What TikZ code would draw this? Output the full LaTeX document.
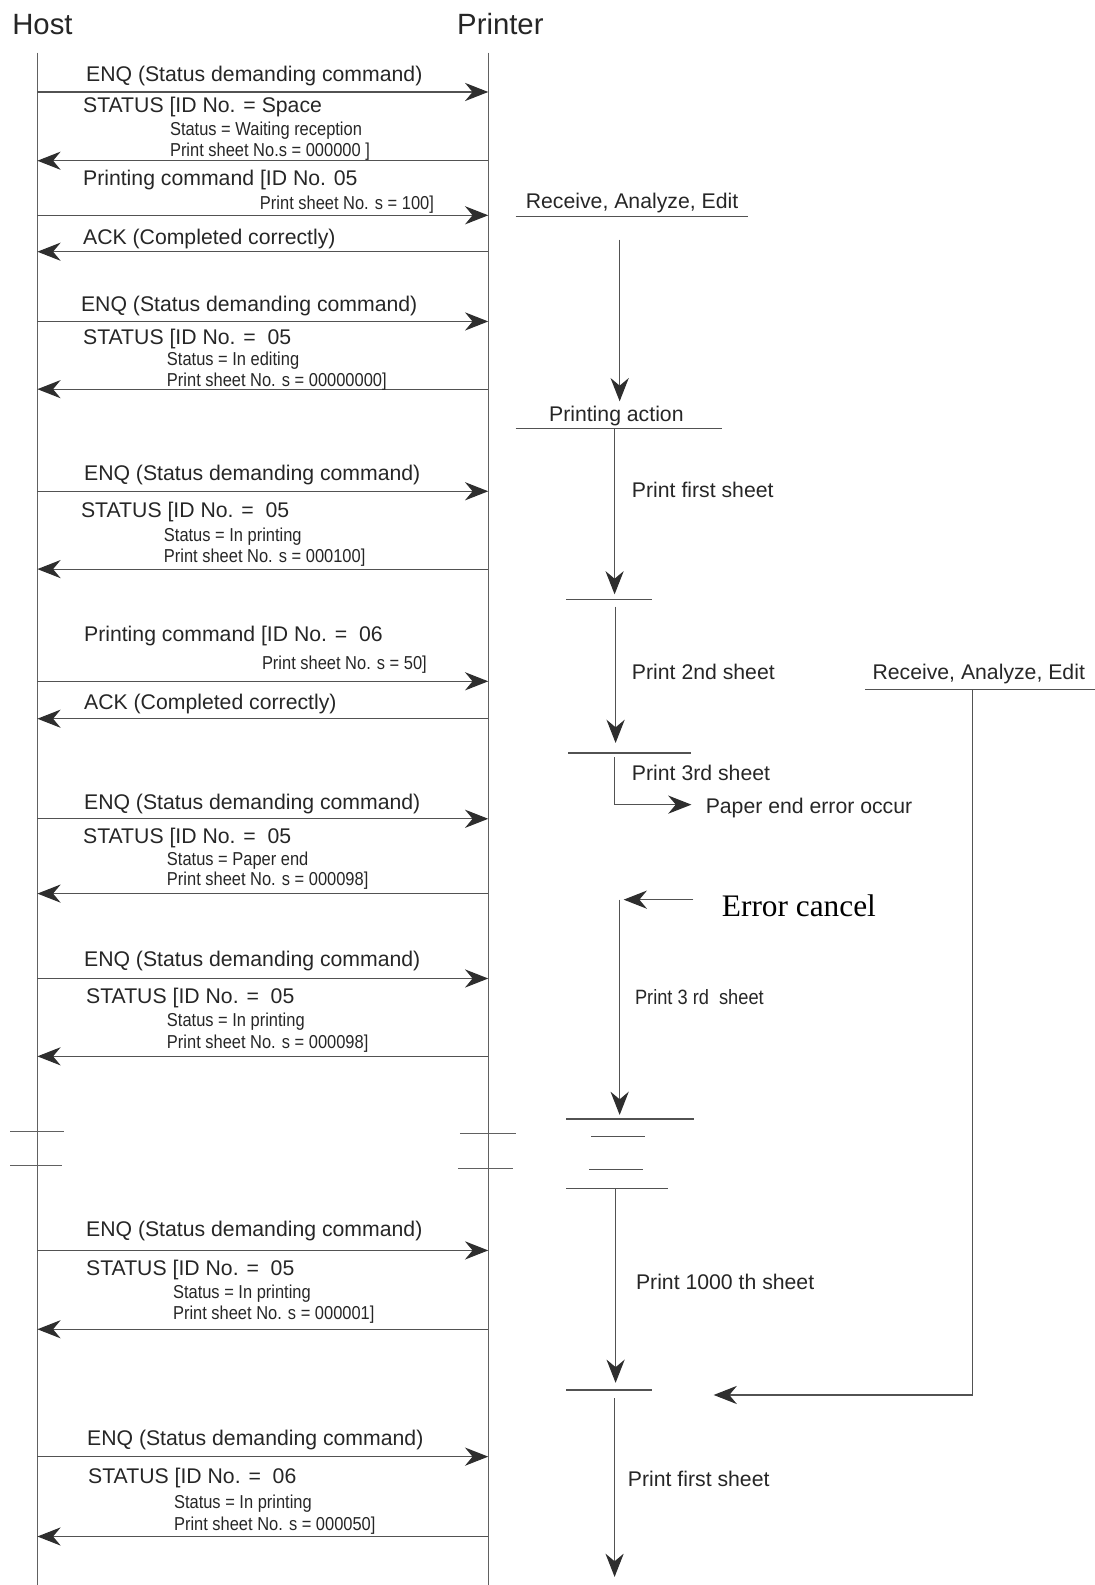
\documentclass[tikz,border=0pt]{standalone}
\usepackage{fontspec}
\setmainfont{Liberation Sans}
\newfontfamily\timesf{Liberation Serif}
\newfontfamily\narrowf[FakeStretch=0.88]{Liberation Sans}
\usetikzlibrary{arrows.meta}
\begin{document}
\begin{tikzpicture}[x=1pt,y=-1pt,
  ln/.style={draw=black!68,line width=1.2pt},
  life/.style={draw=black!62,line width=0.9pt},
  tip/.style={-{Stealth[length=23pt,width=18pt,inset=7.5pt,color=black!82]}},
  big/.style={anchor=base west,inner sep=0pt,text=black!85,font=\fontsize{21}{21}\selectfont},
  sml/.style={anchor=base west,inner sep=0pt,text=black!85,font=\narrowf\fontsize{18.5}{18.5}\selectfont},
  mid/.style={anchor=base west,inner sep=0pt,text=black!85,font=\narrowf\fontsize{20.5}{20.5}\selectfont},
  head/.style={inner sep=0pt,text=black!85,font=\fontsize{29}{29}\selectfont},
]
\useasboundingbox (0,0) rectangle (1083,1568);

% titles
\node[head] (host) at (42,24) {Host};
\node[head] (printer) at (495,24) {Printer};

% lifelines
\coordinate (htop) at (37,52);  \coordinate (hbot) at (37,1568);
\coordinate (ptop) at (483,52); \coordinate (pbot) at (483,1568);
\draw[life] (htop) -- (hbot);
\draw[life] (ptop) -- (pbot);

% break marks
\coordinate (hb1a) at (10,1119); \coordinate (hb1b) at (63,1119);
\coordinate (hb2a) at (10,1153); \coordinate (hb2b) at (61,1153);
\coordinate (pb1a) at (455,1121); \coordinate (pb1b) at (510,1121);
\coordinate (pb2a) at (453,1156); \coordinate (pb2b) at (507,1156);
\draw[life] (hb1a) -- (hb1b);
\draw[life] (hb2a) -- (hb2b);
\draw[life] (pb1a) -- (pb1b);
\draw[life] (pb2a) -- (pb2b);

% messages host -> printer
\foreach \i/\y in {1/91,3/213,5/318,7/486,9/674,11/810,13/968,15/1237,17/1441} {
  \coordinate (h\i) at (37,\y); \coordinate (p\i) at (483,\y);
  \draw[ln,tip] (h\i) -- (p\i);
}
% messages printer -> host
\foreach \i/\y in {2/159,4/249,6/385,8/563,10/711,12/884,14/1045,16/1315,18/1520} {
  \coordinate (h\i) at (37,\y); \coordinate (p\i) at (483,\y);
  \draw[ln,tip] (p\i) -- (h\i);
}

% message labels
\node[big] (m1) at (85,80.5) {ENQ (Status demanding command)};
\node[big] (m2) at (82,111.5) {STATUS [ID No. = Space};
\node[sml] (m2a) at (168,134) {Status = Waiting reception};
\node[sml] (m2b) at (168,155) {Print sheet No.s = 000000 ]};
\node[big] (m3) at (82,183.5) {Printing command [ID No. 05};
\node[sml] (m3a) at (257,207) {Print sheet No. s = 100]};
\node[big] (m4) at (82,241.5) {ACK (Completed correctly)};

\node[big] (m5) at (80,308.5) {ENQ (Status demanding command)};
\node[big] (m6) at (82,340.5) {STATUS [ID No. =\ \ 05};
\node[sml] (m6a) at (165,362) {Status = In editing};
\node[sml] (m6b) at (165,382) {Print sheet No. s = 00000000]};

\node[big] (m7) at (83,475.5) {ENQ (Status demanding command)};
\node[big] (m8) at (80,511.5) {STATUS [ID No. =\ \ 05};
\node[sml] (m8a) at (162,536) {Status = In printing};
\node[sml] (m8b) at (162,556) {Print sheet No. s = 000100]};

\node[big] (m9) at (83,634.5) {Printing command [ID No. =\ \ 06};
\node[sml] (m9a) at (259,662) {Print sheet No. s = 50]};
\node[big] (m10) at (83,701.5) {ACK (Completed correctly)};

\node[big] (m11) at (83,800.5) {ENQ (Status demanding command)};
\node[big] (m12) at (82,834.5) {STATUS [ID No. =\ \ 05};
\node[sml] (m12a) at (165,856) {Status = Paper end};
\node[sml] (m12b) at (165,876) {Print sheet No. s = 000098]};

\node[big] (m13) at (83,956.5) {ENQ (Status demanding command)};
\node[big] (m14) at (85,992.5) {STATUS [ID No. =\ \ 05};
\node[sml] (m14a) at (165,1015) {Status = In printing};
\node[sml] (m14b) at (165,1037) {Print sheet No. s = 000098]};

\node[big] (m15) at (85,1223.5) {ENQ (Status demanding command)};
\node[big] (m16) at (85,1261.5) {STATUS [ID No. =\ \ 05};
\node[sml] (m16a) at (171,1285) {Status = In printing};
\node[sml] (m16b) at (171,1305) {Print sheet No. s = 000001]};

\node[big] (m17) at (86,1429.5) {ENQ (Status demanding command)};
\node[big] (m18) at (87,1467.5) {STATUS [ID No. =\ \ 06};
\node[sml] (m18a) at (172,1492) {Status = In printing};
\node[sml] (m18b) at (172,1514) {Print sheet No. s = 000050]};

% printer process
\node[big] (rae1) at (520,206.5) {Receive, Analyze, Edit};
\coordinate (u1a) at (510,214); \coordinate (u1b) at (740,214);
\draw[ln] (u1a) -- (u1b);
\coordinate (a1s) at (613,237); \coordinate (a1e) at (613,397);
\draw[ln,tip] (a1s) -- (a1e);

\node[big] (pact) at (543,416.5) {Printing action};
\coordinate (u2a) at (510,424); \coordinate (u2b) at (714,424);
\draw[ln] (u2a) -- (u2b);
\coordinate (a2s) at (608,424); \coordinate (a2e) at (608,588);
\draw[ln,tip] (a2s) -- (a2e);
\node[big] (pfs1) at (625,492.5) {Print first sheet};

\coordinate (u3a) at (560,593); \coordinate (u3b) at (645,593);
\draw[ln] (u3a) -- (u3b);
\coordinate (a3s) at (609,600); \coordinate (a3e) at (609,735);
\draw[ln,tip] (a3s) -- (a3e);
\node[big] (p2s) at (625,672.5) {Print 2nd sheet};

\node[big] (rae2) at (863,672.5) {Receive, Analyze, Edit};
\coordinate (u4a) at (856,682); \coordinate (u4b) at (1083,682);
\draw[ln] (u4a) -- (u4b);
\coordinate (r1) at (962,682); \coordinate (r2) at (962,1380); \coordinate (r3) at (706,1380);
\draw[ln,tip] (r1) -- (r2) -- (r3);

\coordinate (u5a) at (562,745); \coordinate (u5b) at (684,745);
\draw[ln] (u5a) -- (u5b);
\node[big] (p3s) at (625,772.5) {Print 3rd sheet};
\coordinate (e1) at (608,749); \coordinate (e2) at (608,796); \coordinate (e3) at (684,796);
\draw[ln,tip] (e1) -- (e2) -- (e3);
\node[big] (pe) at (698,804.5) {Paper end error occur};

\node[anchor=base west,inner sep=0pt,text=black,font=\timesf\fontsize{31}{31}\selectfont] (ec) at (714,907) {Error cancel};
\coordinate (c1) at (686,890); \coordinate (c2) at (617,890);
\draw[ln,tip] (c1) -- (c2);
\coordinate (a4s) at (613,890); \coordinate (a4e) at (613,1103);
\draw[ln,tip] (a4s) -- (a4e);
\node[mid] (p3r) at (628,994) {Print 3 rd\ \ sheet};

\coordinate (b1a) at (560,1107); \coordinate (b1b) at (687,1107);
\coordinate (b2a) at (585,1124); \coordinate (b2b) at (638,1124);
\coordinate (b3a) at (583,1157); \coordinate (b3b) at (636,1157);
\coordinate (b4a) at (560,1176); \coordinate (b4b) at (661,1176);
\draw[ln] (b1a) -- (b1b);
\draw[ln] (b2a) -- (b2b);
\draw[ln] (b3a) -- (b3b);
\draw[ln] (b4a) -- (b4b);

\coordinate (a5s) at (609,1176); \coordinate (a5e) at (609,1368);
\draw[ln,tip] (a5s) -- (a5e);
\node[big] (p1000) at (629,1275.5) {Print 1000 th sheet};

\coordinate (u6a) at (560,1375); \coordinate (u6b) at (645,1375);
\draw[ln] (u6a) -- (u6b);
\coordinate (a6s) at (608,1383); \coordinate (a6e) at (608,1560);
\draw[ln,tip] (a6s) -- (a6e);
\node[big] (pfs2) at (621,1470.5) {Print first sheet};
\end{tikzpicture}
\end{document}
